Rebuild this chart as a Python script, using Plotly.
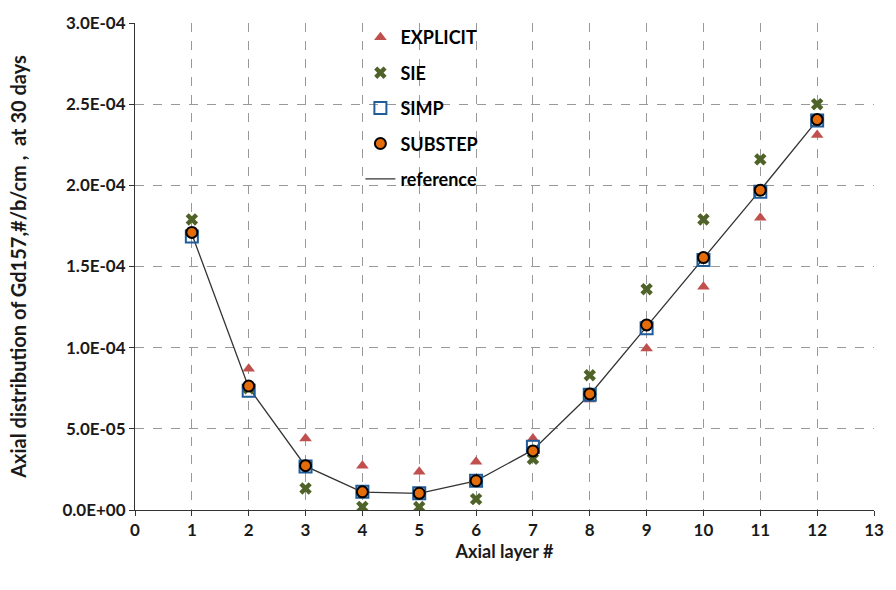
import plotly.graph_objects as go

layers = [1, 2, 3, 4, 5, 6, 7, 8, 9, 10, 11, 12]
explicit = [None, 8.7e-5, 4.4e-5, 2.73e-5, 2.36e-5, 2.97e-5, 4.4e-5, 6.8e-5, 9.95e-5, 1.376e-4, 1.80e-4, 2.31e-4]
sie = [1.79e-4, 7.5e-5, 1.33e-5, 1.9e-6, 1.8e-6, 6.7e-6, 3.15e-5, 8.3e-5, 1.36e-4, 1.79e-4, 2.16e-4, 2.50e-4]
simp = [1.685e-4, 7.35e-5, 2.68e-5, 1.12e-5, 1.03e-5, 1.8e-5, 3.9e-5, 7.1e-5, 1.12e-4, 1.54e-4, 1.96e-4, 2.40e-4]
substep = [1.71e-4, 7.64e-5, 2.73e-5, 1.12e-5, 1.03e-5, 1.80e-5, 3.64e-5, 7.15e-5, 1.14e-4, 1.555e-4, 1.97e-4, 2.405e-4]
reference = [1.70e-4, 7.55e-5, 2.7e-5, 1.1e-5, 1.02e-5, 1.8e-5, 3.7e-5, 7.1e-5, 1.13e-4, 1.55e-4, 1.97e-4, 2.40e-4]

y_tickvals = [0, 5e-5, 1e-4, 1.5e-4, 2e-4, 2.5e-4, 3e-4]
y_ticktext = ["0.0E+00", "5.0E-05", "1.0E-04", "1.5E-04", "2.0E-04", "2.5E-04", "3.0E-04"]
x_tickvals = list(range(0, 14))

FONT = "Lato"
TXT = "#1a1a1a"

fig = go.Figure()
fig.add_trace(go.Scatter(x=layers, y=reference, mode="lines", name="reference",
                         line=dict(color="#333333", width=1.3), legendrank=5, legendgroup="e"))
fig.add_trace(go.Scatter(x=layers, y=explicit, mode="markers", name="EXPLICIT",
                         marker=dict(symbol="triangle-up", size=11, color="#C0504D"),
                         legendrank=1, legendgroup="a"))
fig.add_trace(go.Scatter(x=layers, y=sie, mode="markers", name="SIE",
                         marker=dict(symbol="x", size=11, color="#4F6228"),
                         legendrank=2, legendgroup="b"))
fig.add_trace(go.Scatter(x=layers, y=simp, mode="markers", name="SIMP",
                         marker=dict(symbol="square", size=12, color="rgba(255,255,255,0)",
                                     line=dict(color="#1F5C99", width=2)),
                         legendrank=3, legendgroup="c"))
fig.add_trace(go.Scatter(x=layers, y=substep, mode="markers", name="SUBSTEP",
                         marker=dict(symbol="circle", size=11, color="#E46C0A",
                                     line=dict(color="black", width=2)),
                         legendrank=4, legendgroup="d"))

fig.update_layout(
    width=896, height=590,
    margin=dict(l=135, r=16, t=15, b=80),
    paper_bgcolor="white", plot_bgcolor="white",
    font=dict(family=FONT, size=17, color=TXT),
    legend=dict(x=0.305, y=1.008, xanchor="left", yanchor="top",
                bgcolor="rgba(0,0,0,0)", font=dict(family=FONT, size=18, color="black", weight="bold"),
                tracegroupgap=9, itemwidth=30),
    xaxis=dict(range=[0, 13], tickvals=x_tickvals, showgrid=True, gridcolor="#999999",
               griddash="dash", gridwidth=1, showline=True, linecolor="#333333", linewidth=1,
               ticks="outside", ticklen=5, tickcolor="#333333",
               tickfont=dict(family=FONT, size=17, weight="bold", color=TXT),
               title=dict(text="Axial layer #", font=dict(family=FONT, size=18, weight="bold", color=TXT), standoff=5),
               zeroline=False),
    yaxis=dict(range=[0, 3e-4], tickvals=y_tickvals, ticktext=y_ticktext, showgrid=True,
               gridcolor="#999999", griddash="dash", gridwidth=1, showline=True,
               linecolor="#333333", linewidth=1, ticks="outside", ticklen=5, tickcolor="#333333",
               tickfont=dict(family=FONT, size=17, weight="bold", color=TXT),
               title=dict(text="Axial distribution of Gd157,#/b/cm ,  at 30 days",
                          font=dict(family=FONT, size=20, weight="bold", color=TXT), standoff=30),
               zeroline=False),
)

fig.write_html("out.html")
